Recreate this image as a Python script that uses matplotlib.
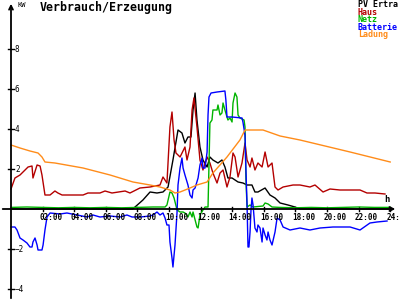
import matplotlib
matplotlib.use("Agg")
import matplotlib.pyplot as plt

# time in hours, power in kW
pv_t = [0, 7.7, 7.85, 8.35, 8.8, 9.24, 9.62, 9.94, 10.25, 10.57, 10.82, 11.01, 11.2, 11.39,
        11.52, 11.65, 11.77, 11.96, 12.15, 12.41, 12.59, 12.78, 13.1, 13.35, 13.54, 13.73,
        13.99, 14.37, 14.68, 14.94, 15.25, 15.44, 15.63, 16.08, 16.39, 16.71, 17.03, 17.53,
        17.97, 18.29, 24]
pv_kw = [0, 0, 0.1, 0.45, 0.85, 0.8, 0.85, 1.1, 2.45, 3.95, 3.8, 3.3, 3.6, 3.6,
         4.95, 5.8, 4.45, 3.1, 2.45, 2.1, 2.6, 2.45, 2.3, 2.45, 2.1, 1.55,
         1.55, 1.35, 1.3, 1.2, 1.2, 0.85, 0.85, 1.05, 0.7, 0.55, 0.3, 0.2,
         0.1, 0, 0]

haus_t = [0, 0.25, 0.57, 1.08, 1.33, 1.39, 1.65, 1.84, 1.96, 2.15, 2.47, 2.78, 2.97, 3.23,
          4.56, 4.87, 5.63, 5.95, 6.39, 7.22, 7.53, 8.16, 8.8, 9.43, 9.62, 9.87, 10.06,
          10.19, 10.32, 10.44, 10.7, 11.01, 11.14, 11.33, 11.46, 11.58, 11.77, 11.96, 12.15,
          12.41, 12.59, 12.78, 13.04, 13.23, 13.42, 13.67, 13.86, 14.05, 14.18, 14.37, 14.62,
          14.81, 14.94, 15.13, 15.25, 15.44, 15.63, 15.89, 16.08, 16.27, 16.52, 16.71, 16.9,
          17.22, 17.85, 18.29, 18.92, 19.24, 19.75, 20.19, 20.82, 22.09, 22.53, 23.04, 23.67]
haus_kw = [1.0, 1.55, 1.7, 2.1, 2.15, 1.55, 2.2, 2.15, 1.7, 0.7, 0.7, 0.9, 0.8, 0.7,
           0.7, 0.8, 0.8, 0.9, 0.8, 0.9, 0.8, 1.05, 1.1, 1.2, 1.6, 1.3, 4.1,
           4.85, 3.45, 2.8, 2.6, 3.1, 2.45, 3.1, 4.95, 5.55, 4.1, 2.45, 1.95,
           2.6, 2.3, 1.8, 1.3, 1.8, 1.95, 1.1, 1.6, 2.8, 2.6, 1.6, 2.3,
           3.3, 2.45, 2.1, 2.55, 1.95, 2.3, 2.1, 2.85, 2.1, 2.3, 1.1, 0.95,
           1.1, 1.2, 1.2, 1.1, 1.2, 0.85, 1.0, 0.95, 0.95, 0.8, 0.8, 0.75]

netz_t = [0, 1, 2, 3, 4, 5, 6, 7, 8, 9, 9.43, 9.75, 9.87, 10.06, 10.19, 10.32, 10.51,
          10.7, 10.89, 11.01, 11.2, 11.33, 11.46, 11.52, 11.77, 11.84, 11.96, 12.15, 12.28,
          12.47, 12.59, 12.72, 12.78, 13.04, 13.1, 13.23, 13.35, 13.42, 13.54, 13.67, 13.73,
          13.86, 13.99, 14.05, 14.18, 14.3, 14.37, 14.49, 14.75, 14.81, 14.87, 14.94, 15.13,
          15.32, 15.95, 16.08, 16.27, 16.52, 17, 18, 19, 20, 21, 22, 23, 24]
netz_kw = [0.08, 0.1, 0.08, 0.06, 0.08, 0.06, 0.08, 0.06, 0.08, 0.1, 0.1, 0.1, 0.2, 0.85, 0.8, 0.55, -0.05,
           -0.15, -0.15, -0.2, -0.4, -0.15, -0.4, -0.15, -0.9, -0.95, -0.3, -0.05, 0.1,
           0.1, 4.3, 4.45, 4.95, 4.95, 5.2, 4.7, 4.8, 5.3, 4.95, 4.6, 4.45,
           4.55, 4.35, 5.3, 5.8, 5.6, 4.7, 4.55, 4.45, 4.1, 1.45, 0.1, 0.2,
           0.1, 0.15, 0.3, 0.25, 0.1, 0.08, 0.06, 0.08, 0.06, 0.08, 0.1, 0.08, 0.08]

batt_t = [0, 0.25, 0.38, 0.57, 0.76, 1.01, 1.2, 1.33, 1.39, 1.52, 1.65, 1.71, 1.96, 2.03,
          2.15, 2.28, 2.47, 3.1, 3.54, 4.18, 4.81, 5.19, 5.63, 6.27, 6.9, 7.34, 7.66, 8.16,
          8.8, 8.99, 9.24, 9.43, 9.62, 9.75, 9.87, 10.0, 10.06, 10.19, 10.25, 10.38, 10.51,
          10.57, 10.7, 10.82, 10.89, 11.01, 11.2, 11.33, 11.46, 11.52, 11.65, 11.84, 11.96,
          12.09, 12.15, 12.28, 12.41, 12.47, 12.53, 12.66, 13.04, 13.54, 13.6, 13.67, 13.99,
          14.62, 14.68, 14.81, 14.87, 14.94, 15.0, 15.06, 15.13, 15.19, 15.25, 15.32, 15.44,
          15.57, 15.63, 15.76, 15.89, 15.95, 16.08, 16.2, 16.27, 16.39, 16.52, 16.71, 16.84,
          17.03, 17.22, 17.66, 18.29, 18.92, 19.56, 20.38, 21.46, 22.09, 22.72, 23.16, 23.8]
batt_kw = [-0.9, -0.9, -1.05, -1.45, -1.55, -1.7, -1.9, -1.9, -1.65, -1.45, -1.8, -2.05, -2.05, -1.8,
           -1.05, -0.4, -0.2, -0.25, -0.2, -0.3, -0.4, -0.3, -0.4, -0.35, -0.4, -0.3, -0.4, -0.4,
           -0.35, -0.3, -0.15, -0.3, -0.2, -0.45, -0.8, -0.8, -1.65, -2.45, -2.9, -1.8, -0.15,
           1.2, 2.05, 2.55, 2.05, 1.7, 1.2, 0.7, 0.55, 0.95, 1.05, 1.55, 2.2,
           2.55, 2.05, 2.05, 2.85, 4.7, 5.6, 5.8, 5.85, 5.9, 5.45, 4.6, 4.6,
           4.55, 4.35, 3.7, 1.95, 0.2, -1.9, -1.9, -1.15, -0.05, 0.55, 0.2, -0.95,
           -1.15, -0.8, -0.95, -1.65, -0.95, -1.3, -1.55, -1.15, -1.55, -1.8, -1.15, -0.45,
           -0.55, -0.9, -1.05, -0.95, -1.05, -0.95, -0.9, -0.9, -1.05, -0.7, -0.65, -0.6]

ladung_t = [0, 0.57, 1.2, 1.71, 1.96, 2.15, 2.78, 4.56, 6.27, 7.72, 8.8, 9.43, 10.06, 10.38,
            10.7, 11.33, 11.77, 12.41, 12.78, 13.67, 14.49, 14.81, 15.95, 17.03, 18.29, 21.46, 24]
ladung_kw = [3.2, 3.05, 2.9, 2.8, 2.6, 2.35, 2.3, 2.05, 1.7, 1.35, 1.2, 1.1, 0.95, 0.8,
             0.85, 1.05, 1.2, 1.35, 1.8, 2.6, 3.45, 3.95, 3.95, 3.65, 3.45, 2.85, 2.35]

hour_ticks = list(range(2, 25, 2))
kw_ticks = [8, 6, 4, 2, -2, -4]
legend_names = ["PV Ertra", "Haus", "Netz", "Batterie", "Ladung"]
colors = ["black", "#b40000", "#00b400", "#0000ff", "#ff8c1a"]

fig = plt.figure(figsize=(4, 3), dpi=100)
ax = fig.add_axes([0, 0, 1, 1])
ax.set_xlim(-11 / 15.8, 389 / 15.8)
ax.set_ylim(-91 / 20, 209 / 20)
ax.axis("off")

mono = "DejaVu Sans Mono"

# axes with arrows
ax.annotate("", xy=(0, 10.4), xytext=(0, -4.6),
            arrowprops=dict(arrowstyle="->", lw=1.3, color="black", mutation_scale=7))
ax.annotate("", xy=(24.5, 0), xytext=(-0.7, 0),
            arrowprops=dict(arrowstyle="->", lw=1.3, color="black", mutation_scale=7))

for v in kw_ticks:
    ax.plot([-0.2, 0.2], [v, v], color="black", lw=1)
    ax.text(0.25, v, str(v).replace("-", "\u2212") if v < 0 else str(v),
            fontsize=5.5, family=mono, ha="left", va="center")
for h in hour_ticks:
    ax.plot([h, h], [-0.12, 0.12], color="black", lw=1)
    ax.text(h - 0.22, -0.2, f"{h:02d}:00", fontsize=5.5, family=mono,
            fontweight="bold", ha="left", va="top")

ax.plot(pv_t, pv_kw, color=colors[0], lw=1)
ax.plot(haus_t, haus_kw, color=colors[1], lw=1)
ax.plot(netz_t, netz_kw, color=colors[2], lw=1)
ax.plot(batt_t, batt_kw, color=colors[3], lw=1)
ax.plot(ladung_t, ladung_kw, color=colors[4], lw=1)

ax.text(17 / 400, 1 - 5 / 300, "KW", transform=ax.transAxes, fontsize=5,
        family=mono, ha="left", va="center")
ax.text(387 / 400, 1 - 200 / 300, "h", transform=ax.transAxes, fontsize=6.5,
        family=mono, fontweight="bold", ha="center", va="center")
ax.text(40 / 400, 1 - 8 / 300, "Verbrauch/Erzeugung", transform=ax.transAxes,
        fontsize=8.4, family=mono, fontweight="bold", ha="left", va="center")

for i, (name, c) in enumerate(zip(legend_names, colors)):
    ax.text(358 / 400, 1 - (4.5 + 7.6 * i) / 300, name, transform=ax.transAxes,
            fontsize=6, family=mono, fontweight="bold", color=c, ha="left", va="center")

fig.savefig("out.png", dpi=100, facecolor="white")
